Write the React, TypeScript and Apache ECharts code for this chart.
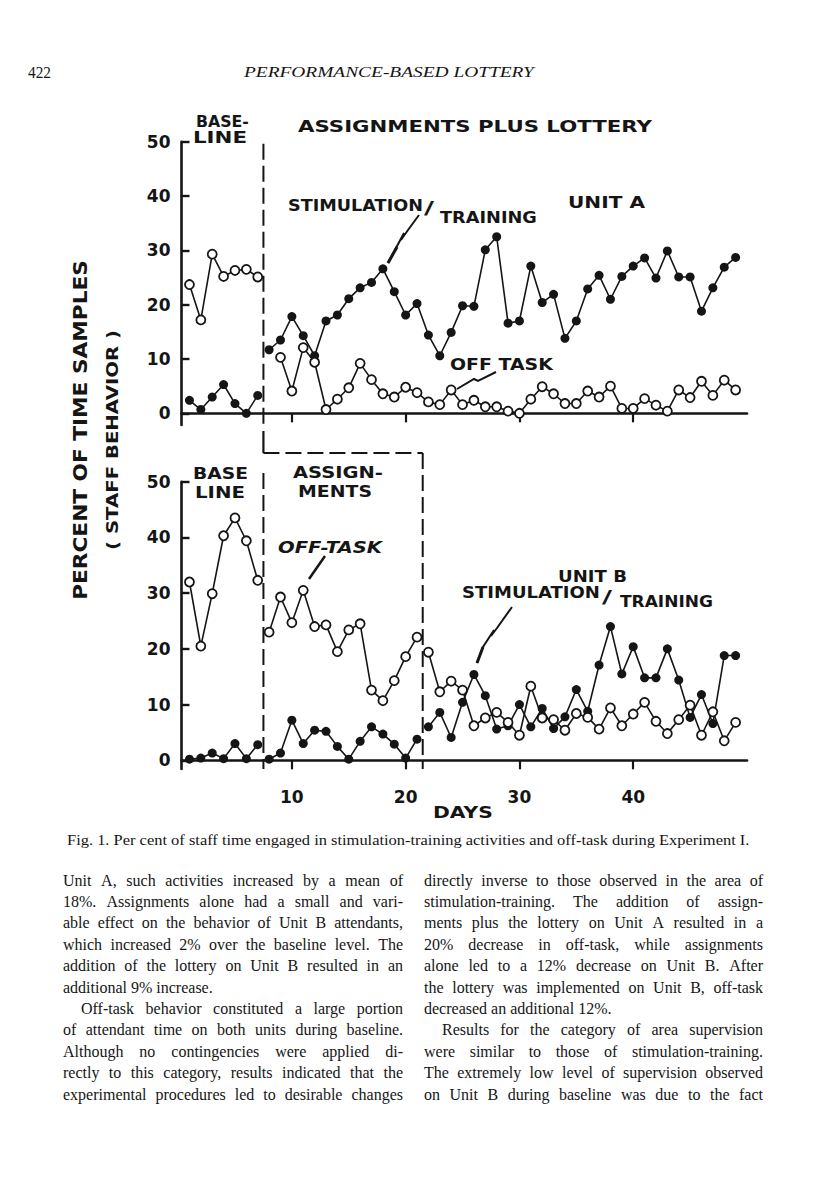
import React, { useEffect, useRef } from 'react';
import * as echarts from 'echarts';

// ---------- data ----------
const xTickDays = [10, 20, 30, 40];
const yTickValues = [0, 10, 20, 30, 40, 50];

// Unit A
const unitABaselineOffTask = [23.7, 17.2, 29.3, 25.2, 26.3, 26.5, 25.1]; // days 1-7
const unitABaselineStim = [2.4, 0.7, 3.0, 5.3, 1.8, 0.0, 3.3]; // days 1-7
const unitALotteryStim = [
  11.7, 13.5, 17.8, 14.3, 10.6, 17.0, 18.1, 21.1, 23.1, 24.1, 26.6, 22.4, 18.1, 20.2,
  14.4, 10.6, 14.9, 19.8, 19.7, 30.1, 32.5, 16.6, 17.0, 27.1, 20.4, 21.9, 13.8, 17.0,
  22.9, 25.4, 21.0, 25.2, 27.1, 28.6, 24.9, 29.9, 25.1, 25.1, 18.8, 23.1, 26.9, 28.7,
]; // days 8-49
const unitALotteryOffTask = [
  10.3, 4.1, 12.1, 9.4, 0.7, 2.6, 4.7, 9.2, 6.2, 3.6, 3.0, 4.8, 3.8, 2.1, 1.6, 4.3,
  1.6, 2.4, 1.2, 1.2, 0.4, 0.0, 2.6, 4.9, 3.6, 1.8, 1.8, 4.1, 3.0, 5.0, 0.9, 0.9,
  2.7, 1.5, 0.4, 4.3, 2.9, 5.9, 3.3, 6.1, 4.3,
]; // days 9-49

// Unit B
const unitBBaselineOffTask = [32.0, 20.5, 29.9, 40.3, 43.5, 39.4, 32.3]; // days 1-7
const unitBBaselineStim = [0.2, 0.4, 1.3, 0.3, 3.0, 0.3, 2.8]; // days 1-7
const unitBAssignOffTask = [23.0, 29.3, 24.7, 30.5, 24.0, 24.3, 19.5, 23.4, 24.5, 12.6, 10.7, 14.3, 18.6, 22.1]; // days 8-21
const unitBAssignStim = [0.2, 1.3, 7.2, 3.0, 5.4, 5.2, 2.5, 0.2, 3.4, 6.0, 4.7, 2.9, 0.4, 3.8]; // days 8-21
const unitBLotteryOffTask = [
  19.4, 12.3, 14.2, 12.6, 6.2, 7.6, 8.6, 6.8, 4.5, 13.3, 7.6, 7.3, 5.4, 8.4, 7.7, 5.6,
  9.4, 6.2, 8.3, 10.4, 7.0, 4.8, 7.3, 9.9, 4.5, 8.7, 3.5, 6.8,
]; // days 22-49
const unitBLotteryStim = [
  6.0, 8.6, 4.1, 10.4, 15.4, 11.6, 5.6, 6.2, 10.0, 6.0, 9.3, 5.7, 7.8, 12.7, 8.8, 17.1,
  24.0, 15.5, 20.4, 14.8, 14.8, 20.0, 14.4, 7.7, 11.8, 6.6, 18.8, 18.8,
]; // days 22-49

const phaseBoundaries = [7.5, 21.5];

const bodyLeft = [
  { t: 'Unit A, such activities increased by a mean of', j: true, ind: false },
  { t: '18%. Assignments alone had a small and vari-', j: true, ind: false },
  { t: 'able effect on the behavior of Unit B attendants,', j: true, ind: false },
  { t: 'which increased 2% over the baseline level. The', j: true, ind: false },
  { t: 'addition of the lottery on Unit B resulted in an', j: true, ind: false },
  { t: 'additional 9% increase.', j: false, ind: false },
  { t: 'Off-task behavior constituted a large portion', j: true, ind: true },
  { t: 'of attendant time on both units during baseline.', j: true, ind: false },
  { t: 'Although no contingencies were applied di-', j: true, ind: false },
  { t: 'rectly to this category, results indicated that the', j: true, ind: false },
  { t: 'experimental procedures led to desirable changes', j: true, ind: false },
];
const bodyRight = [
  { t: 'directly inverse to those observed in the area of', j: true, ind: false },
  { t: 'stimulation-training. The addition of assign-', j: true, ind: false },
  { t: 'ments plus the lottery on Unit A resulted in a', j: true, ind: false },
  { t: '20% decrease in off-task, while assignments', j: true, ind: false },
  { t: 'alone led to a 12% decrease on Unit B. After', j: true, ind: false },
  { t: 'the lottery was implemented on Unit B, off-task', j: true, ind: false },
  { t: 'decreased an additional 12%.', j: false, ind: false },
  { t: 'Results for the category of area supervision', j: true, ind: true },
  { t: 'were similar to those of stimulation-training.', j: true, ind: false },
  { t: 'The extremely low level of supervision observed', j: true, ind: false },
  { t: 'on Unit B during baseline was due to the fact', j: true, ind: false },
];

// ---------- styling helpers ----------
const INK = '#151515';
const LETTER = 'DejaVu Sans';
const SERIF = 'Liberation Serif';

let ctx: CanvasRenderingContext2D | null = null;
function measure(text: string, font: string): number {
  if (!ctx) ctx = document.createElement('canvas').getContext('2d');
  ctx!.font = font;
  return ctx!.measureText(text).width;
}

function txt(text: string, x: number, y: number, size: number, o: any = {}) {
  const family = o.family ?? LETTER;
  const weight = o.weight ?? 'bold';
  const fstyle = o.italic ? 'italic' : 'normal';
  const font = `${fstyle} ${weight} ${size}px "${family}"`;
  let scaleX = o.scaleX ?? 1;
  if (o.width) scaleX = o.width / measure(text, font);
  const align = o.align ?? 'left';
  return {
    type: 'text',
    x,
    y,
    rotation: o.rotation ?? 0,
    scaleX,
    silent: true,
    style: {
      text,
      fill: INK,
      fontSize: size,
      fontFamily: family,
      fontWeight: weight,
      fontStyle: fstyle,
      align,
      verticalAlign: 'middle',
      textAlign: align,
      textVerticalAlign: 'middle',
    },
  };
}

function bodyColumn(lines: any[], left: number, width: number, top: number, lh: number, size: number) {
  const font = `normal normal ${size}px "${SERIF}"`;
  const spaceW = measure(' ', font);
  const out: any[] = [];
  lines.forEach((ln, i) => {
    const indent = ln.ind ? 18 : 0;
    const words = ln.t.split(' ');
    const ws = words.map((w: string) => measure(w, font));
    const sum = ws.reduce((a: number, b: number) => a + b, 0);
    const avail = width - indent;
    const natural = sum + spaceW * (words.length - 1);
    let s = 1;
    let gap = spaceW;
    if (natural > avail) {
      s = avail / natural;
      gap = spaceW * s;
    } else if (ln.j && words.length > 1) {
      gap = (avail - sum) / (words.length - 1);
    }
    let x = left + indent;
    const y = top + i * lh;
    words.forEach((w: string, k: number) => {
      out.push(txt(w, x, y, size, { family: SERIF, weight: 'normal', scaleX: s }));
      x += ws[k] * s + gap;
    });
  });
  return out;
}

function seriesFrom(values: number[], startDay: number, open: boolean, xi: number) {
  return {
    type: 'line',
    xAxisIndex: xi,
    yAxisIndex: xi,
    data: values.map((v, i) => [startDay + i, v]),
    symbol: 'circle',
    symbolSize: open ? 9 : 9,
    showSymbol: true,
    silent: true,
    z: open ? 3 : 2,
    lineStyle: { color: INK, width: 1.6 },
    itemStyle: open
      ? { color: '#ffffff', borderColor: INK, borderWidth: 1.8 }
      : { color: INK, borderColor: INK, borderWidth: 0 },
    emphasis: { disabled: true },
  };
}

function xAxisDef(gi: number, labels: boolean) {
  return {
    type: 'value',
    gridIndex: gi,
    min: 0.3,
    max: 50,
    axisLine: { show: true, lineStyle: { color: INK, width: 2.6 } },
    axisTick: { show: true, customValues: xTickDays, length: 9, inside: false, lineStyle: { color: INK, width: 2.2 } },
    axisLabel: {
      show: labels,
      customValues: xTickDays,
      margin: 19,
      color: INK,
      fontSize: 17,
      fontWeight: 'bold',
      fontFamily: LETTER,
      formatter: (v: number) => String(v),
    },
    splitLine: { show: false },
  };
}

function yAxisDef(gi: number, min: number) {
  return {
    type: 'value',
    gridIndex: gi,
    min,
    max: 50,
    axisLine: { show: true, lineStyle: { color: INK, width: 2.6 } },
    axisTick: { show: true, customValues: yTickValues, length: 8, inside: true, lineStyle: { color: INK, width: 2.4 } },
    axisLabel: {
      show: true,
      customValues: yTickValues,
      margin: 11,
      color: INK,
      fontSize: 17,
      fontWeight: 'bold',
      fontFamily: LETTER,
      formatter: (v: number) => String(v),
    },
    splitLine: { show: false },
  };
}

export default function App() {
  const ref = useRef<HTMLDivElement>(null);
  useEffect(() => {
    if (!ref.current) return;
    const chart = echarts.init(ref.current, null, { renderer: 'svg', width: 816, height: 1195 });
    const option: any = {
      animation: false,
      backgroundColor: '#ffffff',
      grid: [
        { left: 181.5, top: 141.7, width: 565.5, height: 283.3, outerBoundsMode: 'none' },
        { left: 181.5, top: 481.7, width: 565.5, height: 287.3, outerBoundsMode: 'none' },
      ],
      xAxis: [xAxisDef(0, false), xAxisDef(1, true)],
      yAxis: [yAxisDef(0, -2.15), yAxisDef(1, -1.56)],
      series: [
        seriesFrom(unitABaselineStim, 1, false, 0),
        seriesFrom(unitABaselineOffTask, 1, true, 0),
        seriesFrom(unitALotteryStim, 8, false, 0),
        seriesFrom(unitALotteryOffTask, 9, true, 0),
        seriesFrom(unitBBaselineStim, 1, false, 1),
        seriesFrom(unitBBaselineOffTask, 1, true, 1),
        seriesFrom(unitBAssignStim, 8, false, 1),
        seriesFrom(unitBAssignOffTask, 8, true, 1),
        seriesFrom(unitBLotteryStim, 22, false, 1),
        seriesFrom(unitBLotteryOffTask, 22, true, 1),
      ],
    };
    chart.setOption(option);

    const pA = (x: number, y: number) => chart.convertToPixel({ gridIndex: 0 } as any, [x, y]) as number[];
    const pB = (x: number, y: number) => chart.convertToPixel({ gridIndex: 1 } as any, [x, y]) as number[];
    const [b1, b2] = phaseBoundaries;
    const aTop = pA(b1, 49.6);
    const aBot = pA(b1, -2.15);
    const bBot1 = pB(b1, -1.56);
    const bBot2 = pB(b2, -1.56);
    const bracketY = 453;
    const dash = [16, 6];
    const lineEl = (x1: number, y1: number, x2: number, y2: number, d: any, w = 2) => ({
      type: 'line',
      silent: true,
      shape: { x1, y1, x2, y2 },
      style: { stroke: INK, lineWidth: w, lineDash: d },
    });
    const poly = (pts: number[][], w = 2) => ({
      type: 'polyline',
      silent: true,
      shape: { points: pts },
      style: { stroke: INK, lineWidth: w, fill: null },
    });

    const graphic: any[] = [
      // header
      txt('422', 28, 72, 16, { family: SERIF, weight: 'normal', width: 23 }),
      txt('PERFORMANCE-BASED LOTTERY', 244, 72, 15, { family: SERIF, weight: 'normal', italic: true, width: 290 }),
      // vertical titles
      txt('PERCENT OF TIME SAMPLES', 80, 430, 20, { align: 'center', rotation: Math.PI / 2, width: 340 }),
      txt('( STAFF BEHAVIOR )', 113, 440, 15, { align: 'center', rotation: Math.PI / 2, width: 220 }),
      // phase lines
      lineEl(aTop[0], aTop[1], aBot[0], aBot[1], dash),
      lineEl(aBot[0], aBot[1] + 6, aBot[0], bracketY, null, 2.2),
      lineEl(aBot[0], bracketY, bBot2[0], bracketY, dash),
      lineEl(bBot2[0], bracketY, bBot2[0], bBot2[1], dash),
      lineEl(bBot1[0], 473, bBot1[0], bBot1[1], dash),
      // Unit A annotations
      txt('BASE-', 196, 121, 16, { width: 53 }),
      txt('LINE', 193, 137, 16, { width: 54 }),
      txt('ASSIGNMENTS PLUS LOTTERY', 298, 126, 16, { width: 354 }),
      txt('STIMULATION', 288, 205, 16, { width: 135 }),
      txt('/', 424, 208, 17, { width: 10 }),
      txt('TRAINING', 440, 217, 16, { width: 97 }),
      txt('UNIT A', 568, 202, 16, { width: 77 }),
      txt('OFF TASK', 450, 365, 16, { width: 103 }),
      poly([[419, 215], [408, 230], [401, 240], [404, 233], [396, 248], [388, 263]], 2),
      poly([[397, 247], [388, 263]], 3),
      poly([[496, 372], [478, 381], [474, 379], [457, 389]], 2),
      // Unit B annotations
      txt('BASE', 193, 473, 16, { width: 55 }),
      txt('LINE', 195, 492, 16, { width: 50 }),
      txt('ASSIGN-', 293, 472, 16, { width: 90 }),
      txt('MENTS', 298, 492, 16, { width: 74 }),
      txt('OFF-TASK', 278, 547, 16, { width: 104, italic: true }),
      poly([[325, 556], [309, 579]], 2.5),
      txt('UNIT B', 558, 576, 16, { width: 69 }),
      txt('STIMULATION', 462, 592, 16, { width: 138 }),
      txt('/', 602, 597, 17, { width: 10 }),
      txt('TRAINING', 620, 602, 16, { width: 93 }),
      poly([[512, 607], [497, 628], [491, 636], [494, 630], [483, 647], [477, 663]], 2),
      poly([[483, 647], [477, 663]], 3),
      txt('DAYS', 433, 812, 16, { width: 60 }),
      // caption
      txt('Fig. 1. Per cent of staff time engaged in stimulation-training activities and off-task during Experiment I.', 67, 840, 14, {
        family: SERIF,
        weight: 'normal',
        width: 683,
      }),
      ...bodyColumn(bodyLeft, 63, 340, 880, 21.4, 16),
      ...bodyColumn(bodyRight, 424, 339, 880, 21.4, 16),
    ];
    chart.setOption({ graphic });
    return () => chart.dispose();
  }, []);
  return (
    <div
      ref={ref}
      style={{ position: 'absolute', left: 0, top: 0, width: 816, height: 1195, background: '#ffffff' }}
    />
  );
}
